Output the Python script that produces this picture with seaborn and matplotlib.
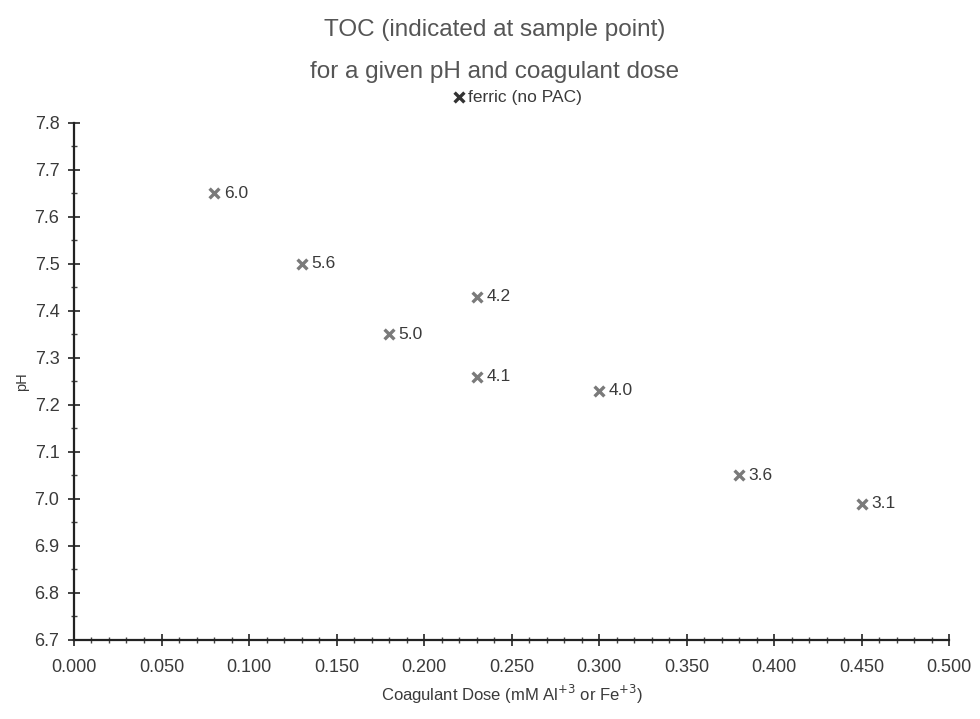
import numpy as np
import pandas as pd
import seaborn as sns
import matplotlib
matplotlib.use("Agg")
import matplotlib.pyplot as plt
from matplotlib.ticker import MultipleLocator, FormatStrFormatter

# Jar-test results: coagulant dose, settled pH and measured TOC at each point
dose = [0.08, 0.13, 0.18, 0.23, 0.23, 0.30, 0.38, 0.45]
ph = [7.65, 7.50, 7.35, 7.43, 7.26, 7.23, 7.05, 6.99]
toc = ["6.0", "5.6", "5.0", "4.2", "4.1", "4.0", "3.6", "3.1"]
series_name = "ferric (no PAC)"

df = pd.DataFrame({"dose": dose, "ph": ph, "toc": toc, "series": series_name})

sns.set_theme(style="white")
plt.rcParams["font.family"] = ["Liberation Sans", "DejaVu Sans"]

fig = plt.figure(figsize=(9.8, 7.19), dpi=100)
ax = fig.add_axes([0.0755, 0.110, 0.893, 0.719])

marker_color = "#7a7a7a"
text_color = "#3a3a3a"

sns.scatterplot(data=df, x="dose", y="ph", marker="x", s=50, color=marker_color,
                linewidth=2.4, label=series_name, ax=ax, clip_on=False, zorder=3)

for _, row in df.iterrows():
    ax.annotate(row["toc"], (row["dose"], row["ph"]), xytext=(7, 0),
                textcoords="offset points", va="center", ha="left",
                fontsize=12.5, color=text_color)

ax.set_xlim(0, 0.5)
ax.set_ylim(6.7, 7.8)
ax.xaxis.set_major_locator(MultipleLocator(0.05))
ax.xaxis.set_minor_locator(MultipleLocator(0.01))
ax.yaxis.set_major_locator(MultipleLocator(0.1))
ax.yaxis.set_minor_locator(MultipleLocator(0.05))
ax.xaxis.set_major_formatter(FormatStrFormatter("%.3f"))
ax.yaxis.set_major_formatter(FormatStrFormatter("%.1f"))

for side in ("top", "right"):
    ax.spines[side].set_visible(False)
for side in ("left", "bottom"):
    ax.spines[side].set_color("#222222")
    ax.spines[side].set_linewidth(1.6)

ax.tick_params(axis="both", which="major", direction="inout", length=9, width=1.2,
               color="#222222", labelsize=13, labelcolor=text_color)
ax.tick_params(axis="both", which="minor", direction="inout", length=4, width=1.0,
               color="#444444")
ax.tick_params(axis="x", which="major", pad=9)
ax.tick_params(axis="y", which="major", pad=6)
ax.tick_params(left=True, bottom=True, which="both")

ax.set_xlabel("Coagulant Dose (mM Al$^{+3}$ or Fe$^{+3}$)", fontsize=12,
              color=text_color, labelpad=5)
ax.set_ylabel("pH", fontsize=10.5, color=text_color, labelpad=4)

leg = ax.legend(loc="center", bbox_to_anchor=(0.505, 1.05), frameon=False,
                handletextpad=0.0, handlelength=1.0, fontsize=12.5,
                labelcolor=text_color)
for h in leg.legend_handles:
    h.set_color("#333333")

fig.text(0.505, 0.958, "TOC (indicated at sample point)", ha="center", va="center",
         fontsize=17.5, color="#555555")
fig.text(0.505, 0.900, "for a given pH and coagulant dose", ha="center", va="center",
         fontsize=17.5, color="#555555")

fig.savefig("out.png", dpi=100, facecolor="white")
